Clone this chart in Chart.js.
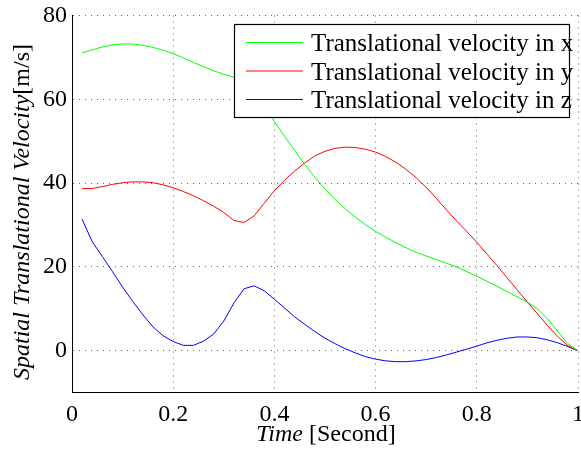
<!DOCTYPE html>
<html>
<head>
<meta charset="utf-8">
<script src="https://cdn.jsdelivr.net/npm/chart.js@4/dist/chart.umd.min.js"></script>
<style>
html,body{margin:0;padding:0;background:#fff;}
#wrap{width:581px;height:450px;position:relative;}
</style>
</head>
<body>
<div id="wrap"><canvas id="c" width="581" height="450"></canvas></div>
<script>
const time = [0.02,0.04,0.06,0.08,0.10,0.12,0.14,0.16,0.18,0.20,0.22,0.24,0.26,0.28,0.30,0.32,0.34,0.36,0.38,0.40,0.42,0.44,0.46,0.48,0.50,0.52,0.54,0.56,0.58,0.60,0.62,0.64,0.66,0.68,0.70,0.72,0.74,0.76,0.78,0.80,0.82,0.84,0.86,0.88,0.90,0.92,0.94,0.96,0.98,1.00];
const velX = [71.1,71.8,72.5,73.0,73.2,73.2,72.9,72.4,71.7,70.9,69.9,68.8,67.8,66.8,66.0,65.3,64.0,61.2,58.0,54.7,51.2,47.8,44.5,41.4,38.6,36.1,33.9,31.9,30.1,28.5,27.1,25.8,24.6,23.5,22.6,21.8,20.9,20.0,18.9,17.8,16.6,15.4,14.1,12.9,11.6,10.0,7.6,4.6,1.7,0.0];
const velY = [38.7,38.7,39.2,39.7,40.1,40.3,40.3,40.1,39.6,38.9,38.0,37.0,35.8,34.5,33.0,31.1,30.6,32.2,35.2,38.2,40.7,42.9,44.8,46.5,47.6,48.3,48.6,48.5,48.1,47.4,46.35,45.0,43.3,41.3,39.0,36.4,33.6,31.0,28.5,25.9,23.1,20.3,17.4,14.5,11.6,8.8,6.0,3.4,1.2,0.0];
const velZ = [31.4,26.0,22.5,18.9,15.2,11.8,8.6,5.7,3.6,2.2,1.3,1.3,2.3,4.0,7.1,11.4,14.8,15.5,14.3,12.3,10.2,8.1,6.3,4.6,3.0,1.7,0.5,-0.5,-1.4,-2.0,-2.4,-2.6,-2.6,-2.4,-2.1,-1.6,-1.0,-0.3,0.4,1.1,1.9,2.5,3.0,3.3,3.3,3.1,2.6,1.9,1.0,0.0];
const xTicks = [0,0.2,0.4,0.6,0.8,1];
const yTicks = [0,20,40,60,80];
const seriesLabels = ['Translational velocity in x','Translational velocity in y','Translational velocity in z'];
const seriesColors = ['#00ff00','#ff0000','#0000ff'];
const xTitleItalic = 'Time';
const xTitleNormal = ' [Second]';
const yTitleItalic = 'Spatial Translational Velocity';
const yTitleNormal = '[m/s]';

const FONT = '"Liberation Serif", "Times New Roman", serif';

function pts(vals){ return time.map((t,i)=>({x:t,y:vals[i]})); }

const titlesAndLegend = {
  id:'titlesAndLegend',
  afterDraw(chart){
    const ctx = chart.ctx;
    const ca = chart.chartArea;
    ctx.save();
    ctx.fillStyle = '#000';
    // x title
    ctx.textBaseline = 'alphabetic';
    ctx.font = 'italic 24px ' + FONT;
    const wi = ctx.measureText(xTitleItalic).width;
    ctx.font = '24px ' + FONT;
    const wn = ctx.measureText(xTitleNormal).width;
    let cx = (ca.left + ca.right)/2 + 1;
    let sx = cx - (wi+wn)/2;
    ctx.font = 'italic 24px ' + FONT;
    ctx.textAlign = 'left';
    ctx.fillText(xTitleItalic, sx, 441);
    ctx.font = '24px ' + FONT;
    ctx.fillText(xTitleNormal, sx+wi, 441);
    // y title
    ctx.save();
    ctx.translate(29, 212);
    ctx.rotate(-Math.PI/2);
    ctx.font = 'italic 24px ' + FONT;
    const yi = ctx.measureText(yTitleItalic).width;
    ctx.font = '24px ' + FONT;
    const yn = ctx.measureText(yTitleNormal).width;
    let s = -(yi+yn)/2;
    ctx.font = 'italic 24px ' + FONT;
    ctx.fillText(yTitleItalic, s, 0);
    ctx.font = '24px ' + FONT;
    ctx.fillText(yTitleNormal, s+yi, 0);
    ctx.restore();
    // legend
    const bx = 234.5, by = 24.5, bw = 335, bh = 93;
    ctx.fillStyle = '#fff';
    ctx.fillRect(bx, by, bw, bh);
    ctx.strokeStyle = '#000';
    ctx.lineWidth = 1.2;
    ctx.strokeRect(bx, by, bw, bh);
    const rowY = [42.5, 71, 99.5];
    ctx.font = '25px ' + FONT;
    ctx.textBaseline = 'alphabetic';
    chart.data.datasets.forEach((ds,i)=>{
      ctx.strokeStyle = ds.borderColor;
      ctx.lineWidth = 1;
      ctx.beginPath();
      ctx.moveTo(246, rowY[i]);
      ctx.lineTo(303, rowY[i]);
      ctx.stroke();
      ctx.fillStyle = '#000';
      ctx.fillText(ds.label, 311, rowY[i] + 8.5);
    });
    ctx.restore();
  }
};

const gridCommon = {
  color: '#666',
  lineWidth: 1,
  drawTicks: false
};

new Chart(document.getElementById('c'), {
  type: 'line',
  data: {
    datasets: [
      {label: seriesLabels[0], data: pts(velX), borderColor: seriesColors[0]},
      {label: seriesLabels[1], data: pts(velY), borderColor: seriesColors[1]},
      {label: seriesLabels[2], data: pts(velZ), borderColor: seriesColors[2]}
    ]
  },
  options: {
    responsive: false,
    animation: false,
    devicePixelRatio: 1,
    layout: {padding: {top: 15.5, right: 3, left: 0, bottom: 0}},
    elements: {
      line: {borderWidth: 1, tension: 0, fill: false},
      point: {radius: 0, hoverRadius: 0}
    },
    plugins: {legend: {display: false}, tooltip: {enabled: false}},
    scales: {
      x: {
        type: 'linear',
        min: 0, max: 1,
        afterBuildTicks(s){ s.ticks = xTicks.map(v=>({value:v})); },
        afterFit(s){ s.height = 57.3; s.paddingLeft = 0; s.paddingRight = 0; },
        ticks: {
          font: {family: FONT, size: 24},
          color: '#000',
          padding: 8,
          maxRotation: 0,
          autoSkip: false,
          callback(v){ return (v===0||v===1) ? String(v) : v.toFixed(1); }
        },
        grid: gridCommon,
        border: {display: true, color: '#000', width: 1, dash: [1,5]}
      },
      y: {
        type: 'linear',
        min: -10, max: 80,
        afterBuildTicks(s){ s.ticks = yTicks.map(v=>({value:v})); },
        afterFit(s){ s.width = 72; s.paddingTop = 0; s.paddingBottom = 0; },
        ticks: {
          font: {family: FONT, size: 24},
          color: '#000',
          padding: 5,
          autoSkip: false
        },
        grid: gridCommon,
        border: {display: true, color: '#000', width: 1, dash: [1,5]}
      }
    }
  },
  plugins: [titlesAndLegend]
});
</script>
</body>
</html>
